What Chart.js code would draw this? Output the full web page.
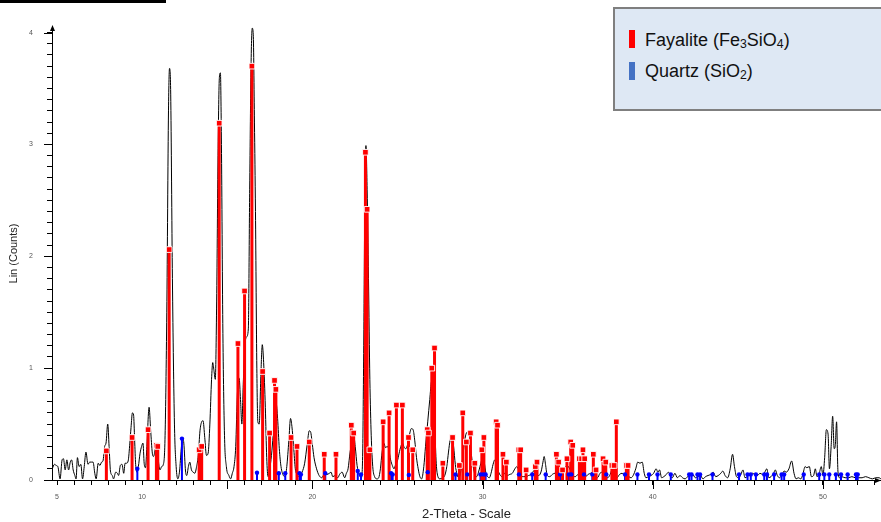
<!DOCTYPE html>
<html>
<head>
<meta charset="utf-8">
<script src="https://cdn.jsdelivr.net/npm/chart.js@4/dist/chart.umd.min.js"></script>
<style>
  html, body { margin: 0; padding: 0; background: #fff; overflow: hidden; }
  #wrap { position: relative; width: 881px; height: 522px; overflow: hidden; }
  #c { position: absolute; left: 0; top: 0; }
  #topbar { position: absolute; left: 0; top: 0; width: 166px; height: 3px; background: #000; }
  #legend { position: absolute; left: 613px; top: 7px; width: 290px; height: 100px;
            border: 2px solid #7f7f7f; background: #dee8f4; }
  .sw { position: absolute; width: 6px; height: 18px; }
  .lt { position: absolute; font-family: "Liberation Sans", Arial, sans-serif; font-size: 18px;
        line-height: 18px; color: #111; white-space: nowrap; }
  .lt sub { font-size: 0.68em; vertical-align: -0.15em; line-height: 0; }
</style>
</head>
<body>
<div id="wrap">
  <canvas id="c" width="881" height="522"></canvas>
  <div id="topbar"></div>
  <div id="legend">
    <span class="sw" style="left:14px; top:21px; background:#ff0000;"></span>
    <span class="lt" style="left:30px; top:22px;">Fayalite (Fe<sub>3</sub>SiO<sub>4</sub>)</span>
    <span class="sw" style="left:14px; top:53px; background:#4472c4;"></span>
    <span class="lt" style="left:30px; top:53px;">Quartz (SiO<sub>2</sub>)</span>
  </div>
</div>
<script>
// ---- measured pattern (2-Theta, Lin counts) ----
const traceTheta = [4.72,4.85,4.95,5.05,5.18,5.3,5.38,5.48,5.58,5.68,5.78,5.86,5.95,6.05,6.12,6.2,6.3,6.4,6.5,6.6,6.7,6.82,6.92,7.02,7.12,7.22,7.3,7.42,7.52,7.62,7.7,7.8,7.88,7.98,8.06,8.14,8.25,8.32,8.45,8.55,8.62,8.72,8.82,8.92,9.0,9.08,9.18,9.28,9.35,9.43,9.5,9.56,9.62,9.7,9.78,9.88,9.97,10.05,10.12,10.2,10.28,10.41,10.5,10.6,10.67,10.78,10.86,10.95,11.05,11.15,11.25,11.35,11.45,11.55,11.61,11.68,11.78,11.9,12.0,12.1,12.2,12.3,12.38,12.45,12.55,12.62,12.72,12.8,12.9,13.0,13.1,13.2,13.3,13.4,13.5,13.58,13.68,13.78,13.88,13.98,14.08,14.15,14.22,14.3,14.38,14.46,14.54,14.6,14.66,14.74,14.84,14.95,15.1,15.2,15.3,15.4,15.5,15.6,15.7,15.78,15.86,15.94,16.04,16.14,16.24,16.32,16.4,16.47,16.53,16.6,16.66,16.74,16.8,16.88,16.98,17.06,17.14,17.24,17.32,17.4,17.5,17.6,17.7,17.8,17.88,17.96,18.06,18.16,18.3,18.4,18.5,18.62,18.72,18.8,18.9,19.0,19.1,19.25,19.4,19.55,19.7,19.82,19.9,20.0,20.1,20.25,20.4,20.56,20.7,20.86,21.0,21.1,21.2,21.35,21.5,21.6,21.75,21.9,22.0,22.1,22.22,22.35,22.43,22.52,22.63,22.75,22.88,22.96,23.02,23.08,23.15,23.22,23.3,23.38,23.46,23.55,23.66,23.8,23.9,24.0,24.1,24.2,24.3,24.4,24.5,24.6,24.7,24.8,24.9,25.0,25.1,25.2,25.3,25.4,25.5,25.6,25.7,25.82,25.92,26.02,26.12,26.22,26.32,26.42,26.55,26.65,26.78,26.9,27.0,27.06,27.12,27.2,27.28,27.38,27.5,27.65,27.78,27.9,28.0,28.1,28.2,28.3,28.4,28.5,28.62,28.75,28.85,28.95,29.05,29.15,29.25,29.35,29.45,29.55,29.65,29.8,29.9,30.02,30.1,30.2,30.3,30.4,30.5,30.62,30.72,30.82,30.95,31.05,31.15,31.3,31.45,31.6,31.75,31.9,32.02,32.14,32.24,32.4,32.55,32.7,32.85,33.0,33.15,33.3,33.45,33.55,33.62,33.7,33.8,33.95,34.1,34.25,34.4,34.55,34.7,34.82,34.95,35.05,35.15,35.3,35.45,35.6,35.75,35.9,36.05,36.2,36.35,36.45,36.6,36.75,36.9,37.05,37.2,37.35,37.5,37.63,37.75,37.9,38.05,38.2,38.35,38.5,38.6,38.72,38.85,39.0,39.12,39.25,39.38,39.5,39.6,39.75,39.9,40.05,40.2,40.3,40.4,40.52,40.65,40.8,40.92,41.05,41.15,41.3,41.45,41.6,41.75,41.9,42.05,42.2,42.35,42.5,42.65,42.8,42.95,43.1,43.25,43.4,43.55,43.7,43.85,44.0,44.12,44.25,44.4,44.55,44.69,44.8,44.92,45.05,45.18,45.3,45.42,45.55,45.7,45.85,46.0,46.15,46.3,46.45,46.58,46.7,46.82,46.95,47.1,47.2,47.32,47.45,47.6,47.72,47.85,48.0,48.16,48.3,48.42,48.55,48.7,48.82,48.95,49.05,49.2,49.32,49.45,49.55,49.65,49.78,49.9,50.0,50.1,50.2,50.3,50.38,50.48,50.57,50.66,50.72,50.8,50.88,50.98,51.1,51.3,51.5,51.7,51.9,52.1,52.3,52.5,52.7,52.9,53.1,53.3,53.4];
const traceCounts = [0.10,0.14,0.13,0.12,0.01,0.18,0.19,0.09,0.18,0.09,0.16,0.18,0.09,0.04,0.01,0.20,0.12,0.14,0.01,0.12,0.25,0.14,0.16,0.16,0.16,0.06,0.01,0.15,0.13,0.16,0.17,0.30,0.33,0.50,0.30,0.08,0.04,0.01,0.07,0.06,0.04,0.13,0.14,0.06,0.15,0.15,0.17,0.33,0.47,0.60,0.58,0.36,0.14,0.07,0.12,0.24,0.30,0.33,0.15,0.11,0.30,0.65,0.45,0.24,0.21,0.28,0.33,0.18,0.09,0.12,0.14,0.40,1.5,3.3,3.68,3.45,1.8,0.5,0.12,0.01,0.08,0.28,0.38,0.33,0.08,0.04,0.12,0.16,0.09,0.07,0.06,0.12,0.22,0.44,0.52,0.53,0.38,0.22,0.24,0.50,0.90,1.05,0.98,0.90,1.6,2.9,3.6,3.64,3.0,1.4,0.40,0.12,0.04,0.01,0.06,0.12,0.30,0.78,0.91,0.72,0.50,0.85,1.20,1.28,1.35,2.6,3.7,4.04,3.98,3.2,2.4,1.0,0.52,0.50,0.95,1.21,1.05,0.65,0.20,0.03,0.10,0.22,0.40,0.62,0.68,0.55,0.28,0.12,0.04,0.03,0.12,0.35,0.55,0.48,0.30,0.10,0.05,0.03,0.07,0.15,0.32,0.44,0.43,0.32,0.20,0.10,0.04,0.02,0.05,0.05,0.06,0.07,0.03,0.04,0.02,0.05,0.07,0.02,0.06,0.10,0.25,0.36,0.40,0.30,0.13,0.05,0.02,0.25,1.2,2.4,2.99,2.6,1.8,0.9,0.40,0.12,0.03,0.01,0.02,0.10,0.25,0.33,0.29,0.30,0.27,0.18,0.13,0.10,0.14,0.17,0.24,0.30,0.33,0.29,0.28,0.32,0.40,0.46,0.45,0.35,0.20,0.10,0.03,0.01,0.12,0.30,0.52,0.72,0.88,0.89,0.75,0.45,0.15,0.03,0.01,0.02,0.04,0.12,0.25,0.36,0.40,0.30,0.14,0.05,0.02,0.10,0.22,0.35,0.42,0.43,0.38,0.22,0.12,0.05,0.03,0.09,0.15,0.21,0.16,0.06,0.03,0.02,0.06,0.14,0.18,0.14,0.07,0.04,0.03,0.06,0.04,0.05,0.06,0.10,0.12,0.08,0.04,0.03,0.03,0.04,0.05,0.08,0.05,0.04,0.08,0.16,0.21,0.14,0.04,0.03,0.05,0.06,0.04,0.07,0.06,0.10,0.13,0.12,0.09,0.04,0.03,0.05,0.06,0.07,0.03,0.05,0.06,0.07,0.04,0.02,0.06,0.07,0.04,0.02,0.05,0.10,0.04,0.02,0.05,0.06,0.04,0.05,0.03,0.02,0.04,0.10,0.16,0.15,0.16,0.06,0.02,0.03,0.04,0.06,0.10,0.07,0.09,0.02,0.03,0.05,0.07,0.03,0.02,0.06,0.02,0.04,0.02,0.01,0.03,0.04,0.05,0.02,0.03,0.04,0.01,0.03,0.04,0.05,0.07,0.03,0.04,0.06,0.08,0.04,0.02,0.10,0.23,0.12,0.03,0.02,0.05,0.09,0.02,0.03,0.05,0.06,0.05,0.04,0.06,0.05,0.07,0.10,0.02,0.03,0.06,0.09,0.04,0.02,0.05,0.08,0.07,0.10,0.17,0.06,0.01,0.02,0.01,0.05,0.12,0.11,0.12,0.03,0.04,0.10,0.03,0.06,0.12,0.04,0.20,0.45,0.41,0.10,0.30,0.57,0.28,0.30,0.52,0.08,0.02,0.03,0.02,0.02,0.03,0.02,0.02,0.02,0.03,0.02,0.01,0.02,0.02,0.01];

// ---- reference stick patterns ----
const fayaliteTheta = [7.9,9.41,10.35,10.84,10.92,11.59,13.35,13.5,14.53,15.63,16.02,16.45,17.08,17.49,17.78,17.86,18.75,19.1,19.82,20.7,21.39,22.29,22.43,23.12,23.22,23.38,24.16,24.51,24.94,25.29,25.65,25.9,26.75,26.82,27.02,27.18,27.67,28.24,28.64,28.84,29.05,29.29,29.55,29.96,30.08,30.8,30.88,31.2,31.4,32.13,32.24,32.56,33.1,33.2,34.34,34.47,34.7,34.96,35.18,35.3,35.69,35.82,35.9,36.0,36.51,36.67,37.08,37.24,37.6,37.73,37.86,38.45,38.55];
const fayaliteCounts = [0.26,0.38,0.45,0.31,0.30,2.06,0.27,0.30,3.19,1.22,1.69,3.70,0.97,0.42,0.89,0.81,0.38,0.30,0.34,0.23,0.23,0.49,0.42,2.93,2.42,0.27,0.52,0.60,0.67,0.67,0.38,0.27,0.45,0.42,1.00,1.18,0.15,0.38,0.13,0.60,0.34,0.42,0.15,0.27,0.38,0.52,0.49,0.23,0.16,0.27,0.27,0.09,0.12,0.16,0.23,0.16,0.09,0.19,0.34,0.31,0.19,0.19,0.27,0.19,0.23,0.09,0.19,0.16,0.13,0.13,0.52,0.13,0.13];
const quartzTheta = [9.72,12.34,16.75,18.03,18.41,19.25,19.33,20.76,22.67,22.86,24.63,24.72,25.67,26.78,28.41,29.1,29.88,30.04,30.18,32.14,32.92,33.71,34.55,35.08,35.22,35.96,36.45,37.27,38.37,39.1,39.78,40.28,41.06,42.14,42.28,42.63,42.78,43.51,45.07,45.57,45.76,46.06,46.55,46.71,47.13,47.57,47.72,48.87,49.78,50.08,50.37,50.76,51.06,51.45,51.94,52.04];
const quartzCounts = [0.10,0.37,0.065,0.06,0.06,0.06,0.05,0.06,0.08,0.05,0.06,0.05,0.045,0.07,0.05,0.05,0.05,0.05,0.05,0.05,0.05,0.05,0.05,0.05,0.05,0.05,0.05,0.05,0.05,0.05,0.05,0.05,0.05,0.05,0.05,0.05,0.05,0.05,0.05,0.05,0.05,0.05,0.05,0.05,0.05,0.05,0.05,0.05,0.05,0.05,0.05,0.05,0.05,0.05,0.05,0.05];

// ---- axes ----
const xTickValues = [5,6,7,8,9,10,11,12,13,14,15,16,17,18,19,20,21,22,23,24,25,26,27,28,29,30,31,32,33,34,35,36,37,38,39,40,41,42,43,44,45,46,47,48,49,50,51,52,53];
const xTickLabels = ['5','10','20','30','40','50'];
const xLongTicks = [15,20,30,40,50];
const yTickLabels = ['0','1','2','3','4'];

const pts = (xs, ys) => xs.map((v, i) => ({x: v, y: ys[i]}));
// vertical sticks: baseline point, top point, then a gap
const sticks = (xs, ys) => xs.flatMap((v, i) => [{x: v, y: 0}, {x: v, y: ys[i]}, {x: v, y: null}]);

const decor = {
  id: 'decor',
  afterDraw(chart) {
    const {ctx, chartArea: a, scales: {x, y}} = chart;
    ctx.save();
    ctx.strokeStyle = '#000';
    ctx.fillStyle = '#000';
    ctx.lineWidth = 1;
    yTickLabels.forEach(l => {
      const py = Math.round(y.getPixelForValue(Number(l))) + 0.5;
      ctx.beginPath(); ctx.moveTo(a.left - 8, py); ctx.lineTo(a.left, py); ctx.stroke();
    });
    xLongTicks.forEach(v => {
      const px = Math.round(x.getPixelForValue(v)) + 0.5;
      ctx.beginPath(); ctx.moveTo(px, a.bottom); ctx.lineTo(px, a.bottom + 9); ctx.stroke();
    });
    ctx.beginPath();
    ctx.moveTo(a.left + 0.5, a.top - 2);
    ctx.lineTo(a.left - 2, a.top + 4);
    ctx.lineTo(a.left + 3, a.top + 4);
    ctx.closePath(); ctx.fill();
    ctx.beginPath();
    ctx.moveTo(a.right, a.bottom + 0.5);
    ctx.lineTo(a.right - 6, a.bottom - 2);
    ctx.lineTo(a.right - 6, a.bottom + 3);
    ctx.closePath(); ctx.fill();
    ctx.restore();
  }
};

new Chart(document.getElementById('c'), {
  type: 'scatter',
  data: {
    datasets: [
      { type: 'line', label: 'pattern', data: pts(traceTheta, traceCounts),
        borderColor: '#000', borderWidth: 1, pointRadius: 0, fill: false,
        cubicInterpolationMode: 'monotone', order: 5 },
      { type: 'line', label: 'Fayalite', data: sticks(fayaliteTheta, fayaliteCounts),
        borderColor: '#ff0000', borderWidth: 3, borderCapStyle: 'butt', pointRadius: 0,
        spanGaps: false, fill: false, tension: 0, order: 3 },
      { type: 'line', label: 'Quartz', data: sticks(quartzTheta, quartzCounts),
        borderColor: '#0000ff', borderWidth: 2, borderCapStyle: 'butt', pointRadius: 0,
        spanGaps: false, fill: false, tension: 0, order: 4 },
      { type: 'scatter', label: 'Fayalite marks', data: pts(fayaliteTheta, fayaliteCounts),
        pointStyle: 'rect', pointRadius: 4, backgroundColor: '#ff0000',
        borderColor: 'rgba(255,255,255,0.9)', borderWidth: 1, order: 1 },
      { type: 'scatter', label: 'Quartz marks', data: pts(quartzTheta, quartzCounts),
        pointStyle: 'circle', pointRadius: 2.2, backgroundColor: '#0000ff',
        borderWidth: 0, order: 2 }
    ]
  },
  options: {
    responsive: false,
    animation: false,
    devicePixelRatio: 1,
    layout: { autoPadding: false, padding: { top: 27, right: 0, left: 0, bottom: 0 } },
    plugins: { legend: { display: false }, tooltip: { enabled: false } },
    scales: {
      x: {
        type: 'linear', position: 'bottom', min: 4.706, max: 53.41, offset: false,
        afterBuildTicks: s => { s.ticks = xTickValues.map(v => ({value: v})); },
        afterFit: s => { s.height = 42; s.paddingLeft = 0; s.paddingRight = 0; },
        grid: { drawOnChartArea: false, drawTicks: true, tickLength: 5, tickColor: '#000', color: '#000', offset: false },
        border: { display: true, color: '#000', width: 1 },
        ticks: {
          autoSkip: false, maxRotation: 0, padding: 8, color: '#555',
          font: { family: 'Liberation Sans, Arial, sans-serif', size: 7 },
          callback: v => xTickLabels.includes(String(v)) ? String(v) : ''
        },
        title: { display: true, text: '2-Theta - Scale', color: '#222',
                 font: { family: 'Liberation Sans, Arial, sans-serif', size: 13 },
                 padding: { top: 0, bottom: 0 } }
      },
      y: {
        type: 'linear', position: 'left', min: 0, max: 4.05,
        afterBuildTicks: s => { const t = []; for (let i = 0; i <= 40; i++) t.push({value: i / 10}); s.ticks = t; },
        afterFit: s => { s.width = 52; s.paddingTop = 0; s.paddingBottom = 0; },
        grid: { drawOnChartArea: false, drawTicks: true, tickLength: 5, tickColor: '#000', color: '#000' },
        border: { display: true, color: '#000', width: 1 },
        ticks: {
          autoSkip: false, padding: 14, color: '#555',
          font: { family: 'Liberation Sans, Arial, sans-serif', size: 7 },
          callback: v => yTickLabels.includes(String(Math.round(v * 10) / 10)) ? String(Math.round(v)) : ''
        },
        title: { display: true, text: 'Lin (Counts)', color: '#222',
                 font: { family: 'Liberation Sans, Arial, sans-serif', size: 11 },
                 padding: { top: 7, bottom: 0 } }
      }
    }
  },
  plugins: [decor]
});
</script>
</body>
</html>
